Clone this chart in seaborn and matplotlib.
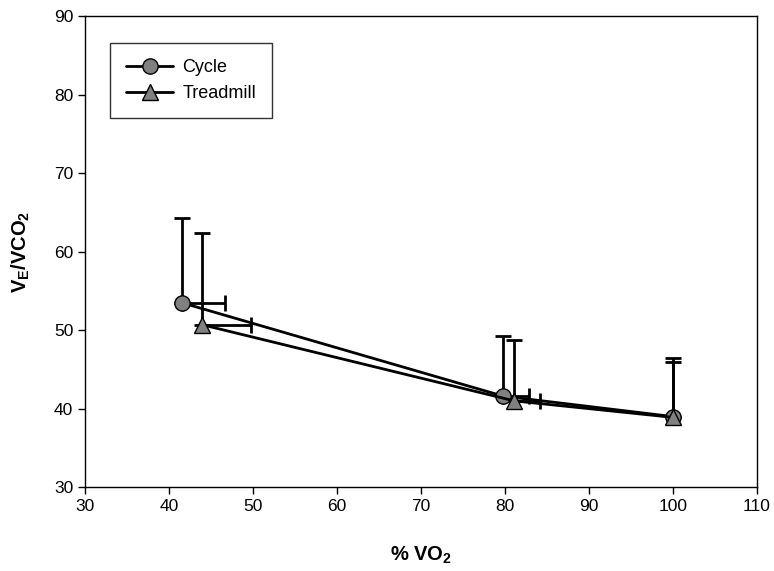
import matplotlib
matplotlib.use("Agg")
import matplotlib.pyplot as plt
import seaborn as sns
import pandas as pd
from matplotlib.lines import Line2D

# data
cycle_x = [41.5, 79.8, 100.0]
cycle_y = [53.5, 41.6, 39.0]
cycle_x_err = [5.1, 3.1, 0.0]
cycle_y_err = [10.8, 7.6, 7.4]

tread_x = [43.9, 81.1, 100.0]
tread_y = [50.7, 41.0, 38.9]
tread_x_err = [5.8, 3.1, 0.0]
tread_y_err = [11.7, 7.7, 7.0]

series_names = ["Cycle", "Treadmill"]
x_ticks = [30, 40, 50, 60, 70, 80, 90, 100, 110]
y_ticks = [30, 40, 50, 60, 70, 80, 90]

sns.set_style("ticks")
plt.rcParams['font.family'] = ['Liberation Sans', 'DejaVu Sans']
plt.rcParams['mathtext.fontset'] = 'custom'
plt.rcParams['mathtext.rm'] = 'Liberation Sans'
plt.rcParams['mathtext.bf'] = 'Liberation Sans:bold'
plt.rcParams['text.color'] = 'black'
plt.rcParams['axes.labelcolor'] = 'black'
plt.rcParams['xtick.color'] = 'black'
plt.rcParams['ytick.color'] = 'black'

df = pd.concat([
    pd.DataFrame({"x": cycle_x, "y": cycle_y, "Mode": series_names[0]}),
    pd.DataFrame({"x": tread_x, "y": tread_y, "Mode": series_names[1]}),
])

fig = plt.figure(figsize=(7.74, 5.71), dpi=100)
ax = fig.add_axes([0.110, 0.1466, 0.868, 0.8254])

LW = 2.0
# error bars (upper / right only)
for xs, ys, xe, ye in [(cycle_x, cycle_y, cycle_x_err, cycle_y_err),
                       (tread_x, tread_y, tread_x_err, tread_y_err)]:
    ax.errorbar(xs, ys, yerr=[[0]*len(ye), ye], fmt='none', ecolor='black',
                elinewidth=LW, capsize=6, capthick=LW, zorder=1)
    xe_plot = [v if v > 0 else float('nan') for v in xe]
    ax.errorbar(xs, ys, xerr=[[0]*len(xe), xe_plot], fmt='none', ecolor='black',
                elinewidth=LW, capsize=6, capthick=LW, zorder=1)

sns.lineplot(data=df, x="x", y="y", hue="Mode", style="Mode",
             markers={"Cycle": "o", "Treadmill": "^"}, dashes=False,
             palette={"Cycle": "black", "Treadmill": "black"},
             markersize=11, markerfacecolor="#808080", markeredgecolor="black",
             markeredgewidth=1.0, linewidth=LW, ax=ax, zorder=3, sort=False,
             legend=False)

handles = [Line2D([], [], color='black', lw=LW, marker='o', markersize=11,
                  markerfacecolor='#808080', markeredgecolor='black'),
           Line2D([], [], color='black', lw=LW, marker='^', markersize=11,
                  markerfacecolor='#808080', markeredgecolor='black')]
leg = ax.legend(handles, series_names, loc='upper left',
                bbox_to_anchor=(0.037, 0.943), borderaxespad=0,
                prop={'size': 13}, frameon=True,
                fancybox=False, edgecolor='black', handlelength=2.6,
                borderpad=0.9, labelspacing=0.5, handletextpad=0.5)
leg.get_frame().set_linewidth(1.0)

ax.set_xlim(30, 110)
ax.set_ylim(30, 90)
ax.set_xticks(x_ticks)
ax.set_yticks(y_ticks)
ax.tick_params(direction='out', length=5, width=1, labelsize=12.5, colors='black')
for s in ax.spines.values():
    s.set_linewidth(1.0)
    s.set_color('black')

ax.set_xlabel(r"% VO$_\mathbf{2}$", fontsize=14.5, fontweight='bold', labelpad=22)
ax.set_ylabel(r"V$_\mathbf{E}$/VCO$_\mathbf{2}$", fontsize=14.5, fontweight='bold', labelpad=16)

fig.savefig("out.png", dpi=100)
